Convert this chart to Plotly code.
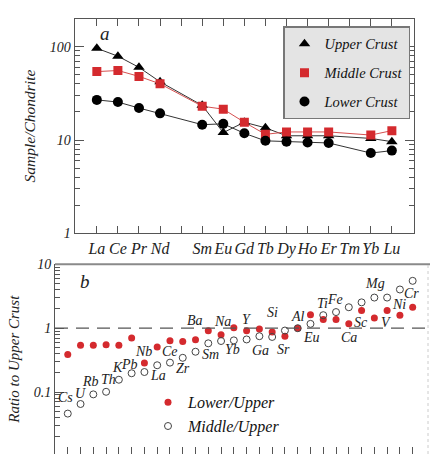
import math
import plotly.graph_objects as go

# ---------------- Panel a data (chondrite-normalised REE) ----------------
REE = ["La", "Ce", "Pr", "Nd", "Pm", "Sm", "Eu", "Gd", "Tb", "Dy", "Ho", "Er", "Tm", "Yb", "Lu"]
REE_TICKS = ["La", "Ce", "Pr", "Nd", "", "Sm", "Eu", "Gd", "Tb", "Dy", "Ho", "Er", "Tm", "Yb", "Lu"]
UPPER = [96, 79, 60, 42, None, 23.5, 12, 15.5, 13.5, 11.1, 11.1, 11.1, None, 10.4, 9.6]
MIDDLE = [54, 55.5, 48, 40, None, 23, 21.4, 15.5, 11.5, 12.2, 12.2, 12.2, None, 11.3, 12.6]
LOWER = [26.9, 25.5, 22, 19.3, None, 14.6, 14.9, 11.8, 9.8, 9.6, 9.4, 9.3, None, 7.25, 7.7]

# ---------------- Panel b data (ratio to upper crust) ----------------
ELEMENTS = ["Cs", "U", "Rb", "Th", "K", "Pb", "Nb", "La", "Ce", "Zr", "Ba", "Sm", "Na", "Yb",
            "Y", "Ga", "Si", "Sr", "Al", "Eu", "Ti", "Fe", "Ca", "Sc", "Mg", "V", "Ni", "Cr"]
LOWER_UPPER = [0.386, 0.54, 0.54, 0.55, 0.54, 0.705, 0.285, 0.51, 0.635, 0.62, 0.658, 0.91, 0.79, 1.02,
               0.91, 0.97, 0.87, 0.75, 1.0, 1.63, 1.37, 1.37, 1.17, 1.9, 1.45, 1.9, 1.6, 2.13]
MIDDLE_UPPER = [0.046, 0.065, 0.092, 0.101, 0.156, 0.197, 0.206, 0.263, 0.289, 0.344, 0.428, 0.58, 0.63, 0.645,
                0.667, 0.75, 0.73, 0.92, 1.0, 1.17, 1.6, 1.79, 2.13, 2.54, 3.02, 3.02, 4.04, 5.52]

# label offsets (pixels) relative to the Middle/Upper point: (dx, dy) with dy positive = down
LABEL_OFFSETS = [(-2, -16), (0, -11), (-3, -13), (2, -12), (-1, -12), (-2, -9), (-1, -21), (1, 10),
                 (0, -11), (0, 11), (-1, -31), (2, 11), (1, -20), (-1, 9), (0, -20), (1, 14),
                 (0, -24), (-1, 19), (0, -12), (1, 14), (-1, -12), (-1, -13), (0, 30), (-1, 20),
                 (1, -14), (-1, 25), (-1, 15), (-1, 13)]

FONT = "Liberation Serif"
RED = "#d42a2e"
AX = "#555555"
TXT = "#222222"

W, H = 430, 462
def px_x(p): return p / W
def px_y(p): return 1 - p / H

fig = go.Figure()

xi = list(range(len(REE)))
series_a = [
    ("Upper Crust", UPPER, "#333333", dict(symbol="triangle-up", size=10, color="black")),
    ("Middle Crust", MIDDLE, "#d65050", dict(symbol="square", size=9, color=RED)),
    ("Lower Crust", LOWER, "#333333", dict(symbol="circle", size=10, color="black")),
]
for name, vals, lc, mk in series_a:
    fig.add_trace(go.Scatter(x=xi, y=vals, mode="lines", connectgaps=True, showlegend=False,
                             line=dict(color=lc, width=1), hoverinfo="skip", xaxis="x", yaxis="y"))
for k, (name, vals, lc, mk) in enumerate(series_a):
    fig.add_trace(go.Scatter(x=xi, y=vals, mode="markers", name=name, legend="legend",
                             legendgroup="a%d" % k, marker=mk, xaxis="x", yaxis="y"))

ei = list(range(len(ELEMENTS)))
fig.add_trace(go.Scatter(x=ei, y=LOWER_UPPER, mode="markers", name="Lower/Upper",
                         legend="legend2", legendgroup="lu",
                         marker=dict(symbol="circle", size=7, color=RED),
                         xaxis="x2", yaxis="y2"))
fig.add_trace(go.Scatter(x=ei, y=MIDDLE_UPPER, mode="markers", name="Middle/Upper",
                         legend="legend2", legendgroup="mu",
                         marker=dict(symbol="circle-open", size=7, color="#444444", line=dict(width=1)),
                         xaxis="x2", yaxis="y2"))

annotations = []
for i, (el, v, (dx, dy)) in enumerate(zip(ELEMENTS, MIDDLE_UPPER, LABEL_OFFSETS)):
    annotations.append(dict(x=i, y=math.log10(v), xref="x2", yref="y2", text=el, showarrow=False,
                            xanchor="center", yanchor="middle",
                            xshift=dx, yshift=-dy, font=dict(size=14, color=TXT, family=FONT, style="italic")))
annotations.append(dict(x=px_x(105), y=px_y(27), xref="paper", yref="paper", text="a", showarrow=False,
                        xanchor="center", yanchor="middle",
                        font=dict(size=19, color=TXT, family=FONT, style="italic")))
annotations.append(dict(x=px_x(85), y=px_y(284), xref="paper", yref="paper", text="b", showarrow=False,
                        xanchor="center", yanchor="middle",
                        font=dict(size=19, color=TXT, family=FONT, style="italic")))

shapes = [
    dict(type="line", xref="x2 domain", yref="y2", x0=0, x1=1, y0=1, y1=1,
         line=dict(color="#555555", width=1.2, dash="13px,8px")),
    dict(type="line", xref="paper", yref="paper", x0=px_x(55), x1=1, y0=px_y(266), y1=px_y(266),
         line=dict(color="#8a8a8a", width=2)),
    dict(type="line", xref="paper", yref="paper", x0=px_x(428), x1=px_x(428), y0=0, y1=px_y(266),
         line=dict(color="#cccccc", width=1, dash="dot")),
]

tickfont = dict(family=FONT, size=14, color=TXT, style="italic")

fig.update_layout(
    width=W, height=H, margin=dict(l=0, r=0, t=0, b=0),
    paper_bgcolor="white", plot_bgcolor="white",
    font=dict(family=FONT, style="italic", color=TXT),
    showlegend=True,
    xaxis=dict(domain=[px_x(74.7), px_x(414)], range=[-1.05, 15.05], tickmode="array",
               tickvals=xi, ticktext=REE_TICKS, tickangle=0, ticks="inside", ticklen=7, tickcolor=AX,
               showline=True, linecolor=AX, linewidth=1.3, mirror="allticks", showgrid=False,
               zeroline=False, tickfont=dict(family=FONT, size=16, color=TXT, style="italic"),
               anchor="y"),
    yaxis=dict(domain=[px_y(234), px_y(12)], type="log", range=[0, 2.3], dtick=1,
               ticks="inside", ticklen=9, tickcolor=AX, showline=True, linecolor=AX, linewidth=1.3,
               mirror="allticks", showgrid=False, zeroline=False, tickfont=tickfont,
               minor=dict(ticks="inside", ticklen=5, tickcolor=AX, dtick="D1", showgrid=False),
               title=dict(text="Sample/Chondrite", font=dict(family=FONT, size=15.5, style="italic"), standoff=10),
               anchor="x"),
    xaxis2=dict(domain=[px_x(55), px_x(428)], range=[-1.0, 28.2], tickmode="array", tickvals=ei,
                ticks="inside", ticklen=7, tickcolor=AX, showticklabels=False, showline=False,
                showgrid=False, zeroline=False, anchor="y2"),
    yaxis2=dict(domain=[0, px_y(266)], type="log", range=[-1.97, 1.0], dtick=1,
                ticks="inside", ticklen=9, tickcolor=AX, showline=True, linecolor=AX, linewidth=1,
                showgrid=False, zeroline=False, tickfont=tickfont,
                minor=dict(ticks="inside", ticklen=5, tickcolor=AX, dtick="D1", showgrid=False),
                title=dict(text="Ratio to Upper Crust", font=dict(family=FONT, size=15, style="italic"), standoff=10),
                anchor="x2"),
    legend=dict(x=px_x(283), y=px_y(20), xanchor="left", yanchor="top", bgcolor="#e4e4e4",
                bordercolor="#777777", borderwidth=1.5, tracegroupgap=7,
                font=dict(family=FONT, size=14.5, color="#111111", style="italic")),
    legend2=dict(x=px_x(148), y=px_y(391), xanchor="left", yanchor="top", bgcolor="rgba(0,0,0,0)",
                 borderwidth=0, tracegroupgap=0,
                 font=dict(family=FONT, size=16, color="#111111", style="italic")),
    annotations=annotations, shapes=shapes,
)

fig.write_html("out.html")
